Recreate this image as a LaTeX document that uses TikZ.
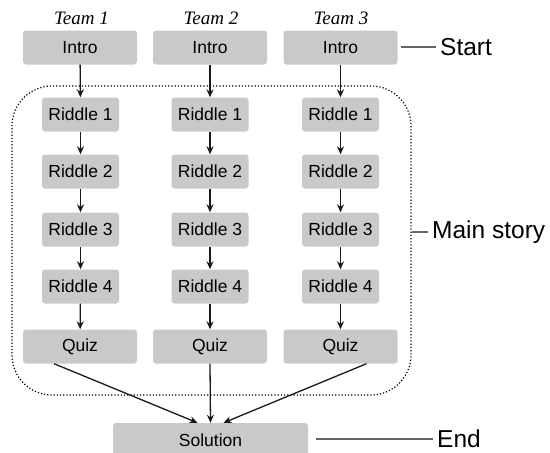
\documentclass[tikz,border=0pt]{standalone}
\usepackage{fontspec}
\setmainfont{Liberation Sans}
\newfontfamily\teamfont{Liberation Serif}
\usetikzlibrary{arrows.meta}
\tikzset{
  box/.style={fill=black!21, rounded corners=3pt, minimum height=34pt, inner sep=0pt, font=\fontsize{17.5}{20}\selectfont},
  introbox/.style={box, minimum width=114pt},
  riddlebox/.style={box, minimum width=77pt},
  solbox/.style={box, minimum width=195pt, minimum height=35pt},
  teamlabel/.style={inner sep=0pt, font=\teamfont\itshape\fontsize{19}{21}\selectfont},
  sidelabel/.style={anchor=west, inner xsep=4pt, inner ysep=0pt, font=\fontsize{24.5}{27}\selectfont},
  flow/.style={draw=black!90, line width=1.3pt, -{Stealth[length=8pt,width=7pt]}},
  guide/.style={draw=black!60, line width=1.1pt},
  storybox/.style={draw=black, dotted, line width=1.2pt, rounded corners=40pt, inner sep=0pt}
}
\begin{document}
\begin{tikzpicture}[x=1pt,y=-1pt]
\useasboundingbox (0,0) rectangle (550,453);
% dotted main story frame
\node[storybox, minimum width=399pt, minimum height=309pt] (story) at (211.5,240.5) {};
% team labels
\node[teamlabel] (t1) at (81.5,18.5) {Team 1};
\node[teamlabel] (t2) at (211,18.5) {Team 2};
\node[teamlabel] (t3) at (341,18.5) {Team 3};
% intro
\node[introbox] (i1) at (80,47.5) {Intro};
\node[introbox] (i2) at (210,47.5) {Intro};
\node[introbox] (i3) at (340.5,47.5) {Intro};
% riddles
\foreach \c/\x in {1/80.5,2/210,3/340.5}{
  \node[riddlebox] (r\c1) at (\x,114.5) {Riddle 1};
  \node[riddlebox] (r\c2) at (\x,171.5) {Riddle 2};
  \node[riddlebox] (r\c3) at (\x,229.5) {Riddle 3};
  \node[riddlebox] (r\c4) at (\x,286.5) {Riddle 4};
}
% quiz
\node[introbox] (q1) at (80,346.5) {Quiz};
\node[introbox] (q2) at (210,346.5) {Quiz};
\node[introbox] (q3) at (340.5,346.5) {Quiz};
% solution
\node[solbox] (sol) at (210.5,440.5) {Solution};
% arrows
\foreach \c in {1,2,3}{
  \draw[flow] (i\c) -- (r\c1);
  \draw[flow] (r\c1) -- (r\c2);
  \draw[flow] (r\c2) -- (r\c3);
  \draw[flow] (r\c3) -- (r\c4);
  \draw[flow] (r\c4) -- (q\c);
}
\draw[flow] ([xshift=-26pt]q1.south) -- ([xshift=-13pt]sol.north);
\draw[flow] (q2.south) -- (sol.north);
\draw[flow] ([xshift=26pt]q3.south) -- ([xshift=13pt]sol.north);
% side labels
\node[sidelabel] (start) at (436,47) {Start};
\node[sidelabel] (mstory) at (428,232) {Main story};
\node[sidelabel] (endl) at (433,439) {End};
\draw[guide] ([xshift=3pt]start.west -| i3.east) -- (start.west);
\draw[guide] (mstory.west -| story.east) -- (mstory.west);
\draw[guide] ([xshift=8pt]endl.west -| sol.east) -- (endl.west);
\end{tikzpicture}
\end{document}
